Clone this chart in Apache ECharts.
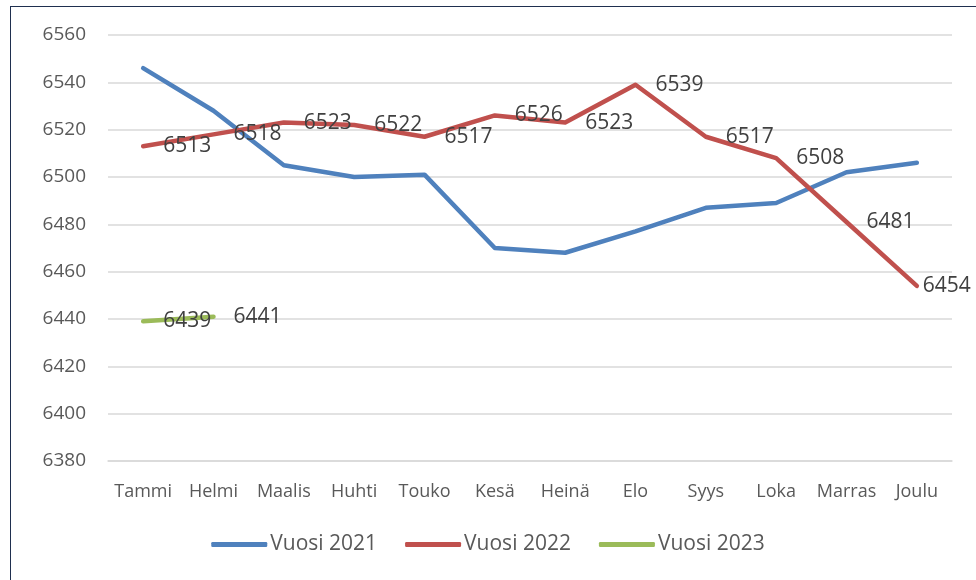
<!DOCTYPE html>
<html>
<head>
<meta charset="utf-8">
<script src="https://cdn.jsdelivr.net/npm/echarts@6/dist/echarts.min.js"></script>
<style>
  html, body { margin: 0; padding: 0; background: #fff; }
  #frame { position: absolute; left: 10px; top: 6px; width: 980px; height: 590px;
    border-left: 1.5px solid #1f2f4f; border-top: 1.5px solid #1f2f4f; }
  #main { position: absolute; left: 0; top: 0; width: 976px; height: 580px; }
</style>
</head>
<body>
<div id="frame"></div>
<div id="main"></div>
<script>
// kuukaudet
const months = ['Tammi', 'Helmi', 'Maalis', 'Huhti', 'Touko', 'Kesä', 'Heinä', 'Elo', 'Syys', 'Loka', 'Marras', 'Joulu'];
const vuosi2021 = [6546, 6528, 6505, 6500, 6501, 6470, 6468, 6477, 6487, 6489, 6502, 6506];
const vuosi2022 = [6513, 6518, 6523, 6522, 6517, 6526, 6523, 6539, 6517, 6508, 6481, 6454];
const vuosi2023 = [6439, 6441];

const font = '"Open Sans", sans-serif';

// viimeinen otsikko lähemmäs pistettä, jotta se mahtuu kuvaan
const withLabels = (data) => data.map((v, i) =>
  i === months.length - 1 ? { value: v, label: { distance: 6 } } : v);

// sarjan yhteiset asetukset
const lineSeries = (name, data, color, showLabel) => ({
  name,
  type: 'line',
  data: showLabel ? withLabels(data) : data,
  showSymbol: true,
  symbol: 'circle',
  symbolSize: 0,
  lineStyle: { width: 4.5, color, cap: 'round', join: 'round' },
  itemStyle: { color },
  label: {
    show: showLabel,
    position: 'right',
    distance: 20,
    offset: [0, 2],
    color: '#404040',
    fontFamily: font,
    fontSize: 21,
    formatter: (p) => String(p.value),
  },
  labelLayout: { hideOverlap: false },
  emphasis: { disabled: true },
});

const chart = echarts.init(document.getElementById('main'));
chart.setOption({
  animation: false,
  grid: { left: 108, right: 24, top: 35, bottom: 119 },
  legend: {
    bottom: 20,
    left: 'center',
    itemWidth: 56,
    itemHeight: 5,
    itemGap: 28,
    icon: 'roundRect',
    textStyle: { color: '#595959', fontFamily: font, fontSize: 21, padding: [0, 0, 0, -2] },
    data: ['Vuosi 2021', 'Vuosi 2022', 'Vuosi 2023'],
  },
  xAxis: {
    type: 'category',
    data: months,
    boundaryGap: true,
    axisLine: { lineStyle: { color: '#d9d9d9', width: 1.5 } },
    axisTick: { show: false },
    axisLabel: { color: '#595959', fontFamily: font, fontSize: 18, margin: 22, interval: 0 },
  },
  yAxis: {
    type: 'value',
    min: 6380,
    max: 6560,
    interval: 20,
    axisLine: { show: false },
    axisTick: { show: false },
    splitLine: { lineStyle: { color: '#d9d9d9', width: 1.5 } },
    axisLabel: { color: '#595959', fontFamily: font, fontSize: 19, margin: 22, formatter: (v) => String(v) },
  },
  series: [
    lineSeries('Vuosi 2021', vuosi2021, '#4f81bd', false),
    lineSeries('Vuosi 2022', vuosi2022, '#c0504d', true),
    lineSeries('Vuosi 2023', vuosi2023, '#9bbb59', true),
  ],
});
</script>
</body>
</html>
